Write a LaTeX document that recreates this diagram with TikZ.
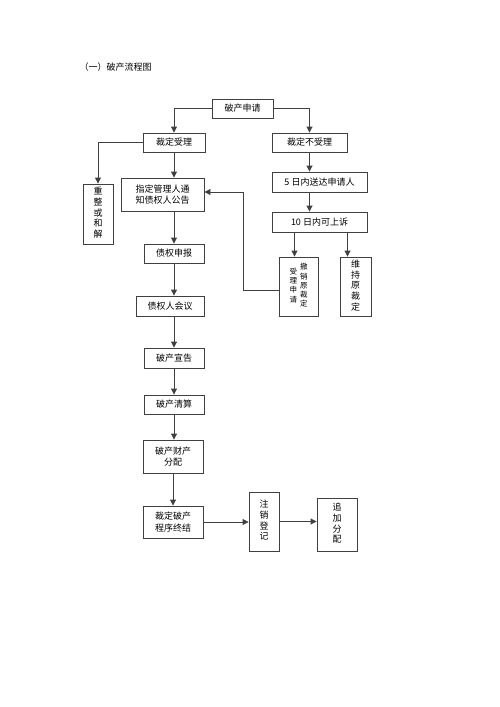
\documentclass[tikz,border=0pt]{standalone}
\usepackage{fontspec}
\newfontfamily\cjk{Noto Sans CJK SC}
\usetikzlibrary{arrows.meta,positioning}
\newcommand{\stackcol}[1]{\begin{tabular}[c]{@{}c@{}}#1\end{tabular}}
\tikzset{
  stepbox/.style={rectangle, draw=black!75, line width=0.9pt, inner sep=0pt,
                  align=center, font=\cjk\fontsize{9}{11.5}\selectfont},
  vbox/.style={stepbox, font=\cjk\fontsize{9}{10.5}\selectfont},
  smallvbox/.style={stepbox, font=\cjk\fontsize{7.5}{9.2}\selectfont},
  flow/.style={draw=black!75, line width=0.9pt, -{Triangle[length=6pt,width=6pt]}},
}
\begin{document}
\begin{tikzpicture}[x=1pt,y=-1pt]
  \useasboundingbox (0,0) rectangle (500,707);
  % title
  \node[anchor=west, font=\cjk\fontsize{9}{11}\selectfont] (title) at (76,67) {（一）破产流程图};
  % top part
  \node[stepbox, minimum width=61pt, minimum height=19pt] (apply) at (242.5,108.5) {破产申请};
  \node[stepbox, minimum width=62pt, minimum height=19pt] (accept) at (174,142.5) {裁定受理};
  \node[stepbox, minimum width=75pt, minimum height=19pt] (reject) at (309.5,142.5) {裁定不受理};
  \node[vbox, minimum width=30pt, minimum height=60pt] (reorg) at (98,214) {\stackcol{重\\整\\或\\和\\解}};
  \node[stepbox, minimum width=83pt, minimum height=33pt] (notice) at (162.5,194.5) {指定管理人通\\知债权人公告};
  % rejected branch
  \node[stepbox, minimum width=95pt, minimum height=20pt] (deliver) at (319.5,182) {5 日内送达申请人};
  \node[stepbox, minimum width=95pt, minimum height=20pt] (appeal) at (319.5,222) {10 日内可上诉};
  \node[smallvbox, minimum width=39pt, minimum height=59pt] (revoke) at (298.5,286.5)
    {\stackcol{受\\理\\申\\请}\hspace{3pt}\stackcol{撤\\销\\原\\裁\\定}};
  \node[vbox, minimum width=31pt, minimum height=59pt] (uphold) at (355.5,286.5) {\stackcol{维\\持\\原\\裁\\定}};
  % main chain
  \node[stepbox, minimum width=60pt, minimum height=19pt] (claim) at (174,253.5) {债权申报};
  \node[stepbox, minimum width=68pt, minimum height=20pt] (meeting) at (170,306) {债权人会议};
  \node[stepbox, minimum width=60pt, minimum height=20pt] (declare) at (174,358) {破产宣告};
  \node[stepbox, minimum width=60pt, minimum height=19pt] (liquid) at (174,404.5) {破产清算};
  \node[stepbox, minimum width=60pt, minimum height=33pt] (distrib) at (173,456.5) {破产财产\\分配};
  \node[stepbox, minimum width=60pt, minimum height=32pt] (terminate) at (173,522) {裁定破产\\程序终结};
  \node[vbox, minimum width=30pt, minimum height=59pt] (cancel) at (264,521.5) {\stackcol{注\\销\\登\\记}};
  \node[vbox, minimum width=40pt, minimum height=53pt] (extra) at (337,524.5) {\stackcol{追\\加\\分\\配}};
  \coordinate (back) at (243,192);
  % connectors
  \draw[flow] (apply.west) -| (accept.north);
  \draw[flow] (apply.east) -| (reject.north);
  \draw[flow] (accept.west) -| (reorg.north);
  \draw[flow] (accept.south) -- (accept.south |- notice.north);
  \draw[flow] (reject.south) -- (reject.south |- deliver.north);
  \draw[flow] (reject.south |- deliver.south) -- (reject.south |- appeal.north);
  \draw[flow] ([xshift=-4pt]revoke.north |- appeal.south) -- ([xshift=-4pt]revoke.north);
  \draw[flow] ([xshift=-8pt]uphold.north |- appeal.south) -- ([xshift=-8pt]uphold.north);
  \draw[flow] ([yshift=-3.5pt]revoke.west) -| (back) -- (back -| notice.east);
  \draw[flow] (notice.south -| claim.north) -- (claim.north);
  \draw[flow] (claim.south) -- (claim.south |- meeting.north);
  \draw[flow] (claim.south |- meeting.south) -- (declare.north);
  \draw[flow] (declare.south) -- (liquid.north);
  \draw[flow] (liquid.south) -- (liquid.south |- distrib.north);
  \draw[flow] (distrib.south) -- (terminate.north);
  \draw[flow] (terminate.east) -- (terminate.east -| cancel.west);
  \draw[flow] (cancel.east) -- (cancel.east -| extra.west);
\end{tikzpicture}
\end{document}
